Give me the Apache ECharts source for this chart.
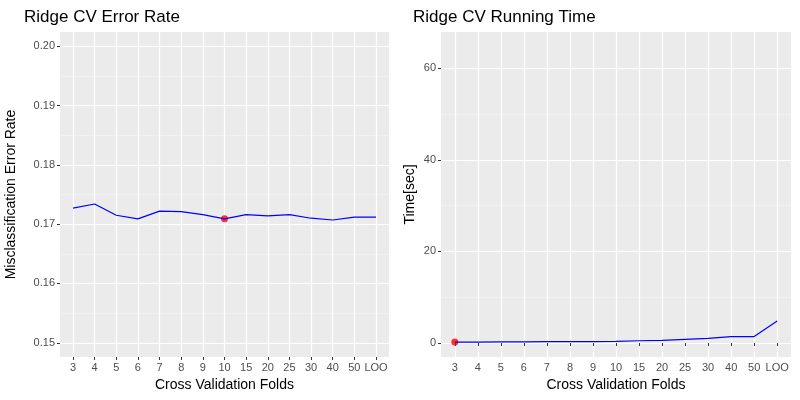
<!DOCTYPE html>
<html><head><meta charset="utf-8">
<script src="https://cdn.jsdelivr.net/npm/echarts@6/dist/echarts.min.js"></script>
<style>html,body{margin:0;background:#fff}#main{width:800px;height:400px}</style>
</head><body><div id="main"></div>
<script>
// folds
var folds = ['3','4','5','6','7','8','9','10','15','20','25','30','40','50','LOO'];
var errRate = [0.1727,0.1734,0.1715,0.1709,0.1722,0.1721,0.1716,0.1709,0.1716,0.1714,0.1716,0.1710,0.1707,0.1712,0.1712];
var runTime = [0.2,0.2,0.25,0.25,0.3,0.3,0.3,0.35,0.5,0.6,0.8,1.0,1.4,1.4,4.8];
var errTicks = [0.15,0.16,0.17,0.18,0.19,0.20];
var errMinor = [0.155,0.165,0.175,0.185,0.195];
var timeTicks = [0,20,40,60];
var timeMinor = [10,30,50];
var bestErr = 7;   // 10-fold
var bestTime = 0;  // 3-fold

var idx = folds.map(function(f, i) { return i + 1; });
function pts(arr) { return arr.map(function(v, i) { return [i + 1, v]; }); }

var lblColor = '#4d4d4d';
function xAxis(gi) {
	return {
		type: 'value', gridIndex: gi, min: 0.4, max: 15.6,
		name: 'Cross Validation Folds', nameLocation: 'middle', nameGap: 20,
		nameTextStyle: { color: '#000', fontSize: 14 },
		axisLine: { show: false },
		axisTick: { show: true, length: 3, lineStyle: { color: '#333' }, customValues: idx },
		axisLabel: { color: lblColor, fontSize: 11, margin: 5, customValues: idx,
			formatter: function(v) { return folds[Math.round(v) - 1]; } },
		splitLine: { show: true, lineStyle: { color: '#fff', width: 1.2 } }
	};
}
function yAxis(gi, min, max, ticks, name, fmt) {
	return {
		type: 'value', gridIndex: gi, min: min, max: max, position: 'left',
		name: name, nameLocation: 'middle', nameGap: gi == 0 ? 42 : 24,
		nameTextStyle: { color: '#000', fontSize: 14 },
		axisLine: { show: false },
		axisTick: { show: true, length: 3, lineStyle: { color: '#333' }, customValues: ticks },
		axisLabel: { color: lblColor, fontSize: 11, margin: 5, customValues: ticks, formatter: fmt },
		splitLine: { show: true, lineStyle: { color: '#fff', width: 1.2 } }
	};
}
function yMinor(gi, min, max, ticks) {
	return {
		type: 'value', gridIndex: gi, min: min, max: max, position: 'left',
		axisLine: { show: false }, axisLabel: { show: false },
		axisTick: { show: false, customValues: ticks },
		splitLine: { show: true, lineStyle: { color: '#f5f5f5', width: 0.6 } }
	};
}

var myChart = echarts.init(document.getElementById('main'));
var option = {
	animation: false,
	title: [
		{ text: 'Ridge CV Error Rate', left: 19, top: 4, textStyle: { fontSize: 17, fontWeight: 'normal', color: '#000' } },
		{ text: 'Ridge CV Running Time', left: 408, top: 4, textStyle: { fontSize: 17, fontWeight: 'normal', color: '#000' } }
	],
	grid: [
		{ left: 60, right: 411, top: 32, bottom: 43, show: true, backgroundColor: '#ebebeb', borderWidth: 0 },
		{ left: 441, right: 9, top: 32, bottom: 43, show: true, backgroundColor: '#ebebeb', borderWidth: 0 }
	],
	xAxis: [xAxis(0), xAxis(1)],
	yAxis: [
		yMinor(0, 0.1476, 0.2024, errMinor),
		yMinor(1, -3.05, 67.9, timeMinor),
		yAxis(0, 0.1476, 0.2024, errTicks, 'Misclassification Error Rate', function(v) { return v.toFixed(2); }),
		yAxis(1, -3.05, 67.9, timeTicks, 'Time[sec]', function(v) { return String(v); })
	],
	series: [
		{ type: 'line', xAxisIndex: 0, yAxisIndex: 2, data: pts(errRate), symbol: 'none',
			lineStyle: { color: '#0000ff', width: 1.2 } },
		{ type: 'scatter', xAxisIndex: 0, yAxisIndex: 2, data: [[bestErr + 1, errRate[bestErr]]],
			symbolSize: 7, itemStyle: { color: '#ff0000' } },
		{ type: 'line', xAxisIndex: 1, yAxisIndex: 3, data: pts(runTime), symbol: 'none',
			lineStyle: { color: '#0000ff', width: 1.2 } },
		{ type: 'scatter', xAxisIndex: 1, yAxisIndex: 3, data: [[bestTime + 1, runTime[bestTime]]],
			symbolSize: 7, itemStyle: { color: '#ff0000' } }
	]
};
myChart.setOption(option);
</script>
</body></html>
